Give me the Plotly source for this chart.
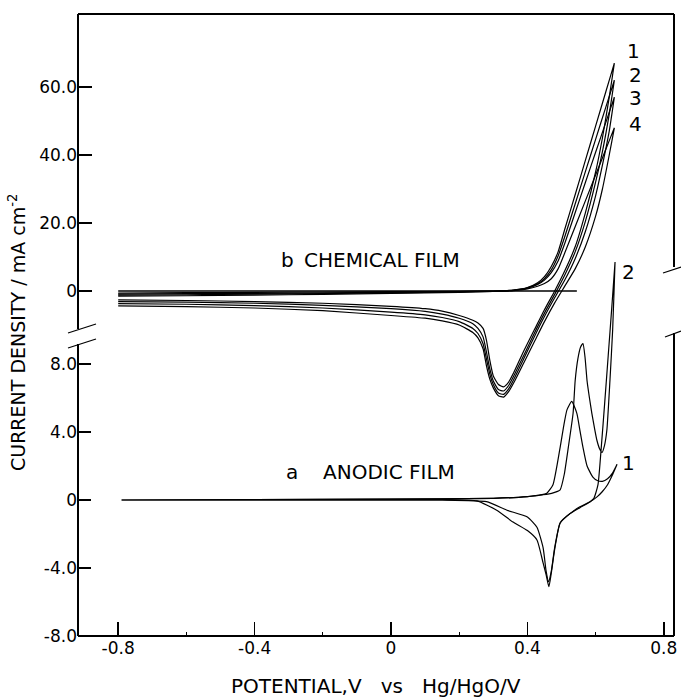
import plotly.graph_objects as go

# ---------------- DATA ----------------
# b  CHEMICAL FILM (upper scale, mA cm^-2), four cycles
chem_fwd_x = [-0.80, -0.60, -0.40, -0.20, 0.00, 0.20, 0.30, 0.36, 0.40, 0.43, 0.45,
              0.47, 0.49, 0.51, 0.54, 0.57, 0.60, 0.63, 0.655]
chem_fwd_y1 = [-0.6, -0.5, -0.4, -0.3, -0.2, -0.1, 0.0, 0.3, 1.0, 2.4, 4.2,
               7.2, 11.5, 18.3, 28.3, 38.4, 48.5, 58.6, 67.0]
chem_fwd_y2 = [-0.9, -0.8, -0.7, -0.55, -0.4, -0.2, 0.0, 0.25, 0.9, 2.1, 3.6,
               6.2, 10.3, 16.1, 25.6, 35.1, 44.6, 54.1, 62.0]
chem_fwd_y3 = [-1.2, -1.1, -0.9, -0.75, -0.55, -0.3, -0.1, 0.2, 0.8, 1.9, 3.2,
               5.4, 8.8, 14.1, 23.0, 31.9, 40.8, 49.6, 57.0]
chem_fwd_y4 = [-1.5, -1.4, -1.2, -1.0, -0.7, -0.4, -0.15, 0.1, 0.6, 1.4, 2.2,
               3.6, 6.5, 11.3, 18.9, 26.5, 34.1, 41.7, 48.0]

chem_rev_x = [0.655, 0.64, 0.62, 0.60, 0.57, 0.54, 0.51, 0.48, 0.45, 0.42, 0.39, 0.36,
              0.345, 0.33, 0.315, 0.30, 0.29, 0.28, 0.27, 0.255, 0.24, 0.20, 0.15, 0.10,
              0.00, -0.20, -0.40, -0.60, -0.80]
chem_rev_y1 = [67.0, 57.0, 45.0, 35.0, 23.0, 13.0, 6.0, 0.0, -5.5, -11.5, -17.5, -24.0,
               -26.8, -28.2, -27.5, -25.0, -20.5, -14.5, -11.0, -9.4, -8.6, -7.2, -5.9, -5.2,
               -4.5, -3.6, -3.1, -2.8, -2.6]
chem_rev_y2 = [62.0, 52.0, 41.0, 32.0, 20.5, 11.5, 4.8, -1.0, -6.5, -12.5, -18.8, -25.0,
               -27.8, -29.4, -29.0, -26.5, -23.0, -18.0, -13.5, -11.0, -9.6, -8.0, -6.8, -6.0,
               -5.2, -4.2, -3.6, -3.3, -3.1]
chem_rev_y3 = [57.0, 47.0, 37.0, 28.0, 17.5, 9.5, 3.3, -2.0, -7.5, -13.5, -19.8, -26.0,
               -28.8, -30.4, -30.0, -27.5, -24.5, -20.0, -15.5, -12.5, -11.0, -9.0, -7.8, -7.0,
               -6.2, -5.0, -4.3, -3.9, -3.7]
chem_rev_y4 = [48.0, 40.0, 30.0, 22.0, 13.0, 6.5, 1.5, -3.5, -9.0, -15.0, -21.0, -27.0,
               -29.6, -31.2, -30.8, -28.5, -26.0, -22.0, -17.0, -13.8, -12.2, -10.0, -8.8, -8.0,
               -7.2, -5.8, -5.0, -4.6, -4.4]
chem_zero_x = [-0.80, 0.545]
chem_zero_y = [0.0, 0.0]

# a  ANODIC FILM (lower scale, mA cm^-2), two cycles
anod1_fwd_x = [-0.79, -0.40, 0.00, 0.30, 0.40, 0.44, 0.457, 0.475, 0.496, 0.506, 0.516,
               0.53, 0.545, 0.554, 0.563, 0.575, 0.592, 0.605, 0.62, 0.635, 0.65, 0.663]
anod1_fwd_y = [0.0, 0.02, 0.05, 0.1, 0.2, 0.3, 0.4, 0.9, 3.1, 4.3, 5.3,
               5.8, 5.1, 4.1, 3.1, 2.0, 1.35, 1.15, 1.1, 1.25, 1.6, 2.1]
anod1_rev_x = [0.663, 0.65, 0.635, 0.62, 0.605, 0.584, 0.554, 0.525, 0.496, 0.48, 0.47,
               0.463, 0.455, 0.446, 0.428, 0.40, 0.358, 0.31, 0.252, 0.15, 0.00, -0.40, -0.79]
anod1_rev_y = [2.1, 1.5, 0.9, 0.5, 0.2, -0.1, -0.4, -0.8, -1.35, -2.9, -4.3,
               -5.1, -4.4, -3.7, -2.35, -1.8, -1.3, -0.6, -0.05, 0.0, 0.0, 0.0, 0.0]

anod2_fwd_x = [-0.79, -0.40, 0.00, 0.30, 0.40, 0.44, 0.46, 0.48, 0.496, 0.508, 0.52,
               0.534, 0.54, 0.548, 0.556, 0.563, 0.569, 0.575, 0.582, 0.589, 0.597, 0.604,
               0.612, 0.619, 0.626, 0.633, 0.642, 0.65, 0.657]
anod2_fwd_y = [0.0, 0.02, 0.05, 0.1, 0.2, 0.3, 0.35, 0.45, 0.6, 1.5, 3.1,
               5.1, 7.0, 8.3, 9.0, 9.2, 8.4, 7.0, 6.0, 5.1, 4.2, 3.5,
               3.0, 2.8, 3.2, 4.1, 7.0, 10.0, 14.0]
anod2_rev_x = [0.657, 0.647, 0.637, 0.627, 0.617, 0.607, 0.595, 0.584, 0.554, 0.525, 0.496,
               0.48, 0.47, 0.462, 0.455, 0.446, 0.428, 0.40, 0.34, 0.28, 0.15, 0.00, -0.40, -0.79]
anod2_rev_y = [14.0, 11.2, 8.5, 5.8, 3.2, 0.9, 0.1, -0.1, -0.45, -0.8, -1.35,
               -2.8, -4.2, -4.8, -4.2, -2.8, -1.6, -1.0, -0.6, -0.1, 0.0, 0.0, 0.0, 0.0]

x_ticks = [-0.8, -0.4, 0.0, 0.4, 0.8]
x_ticktext = ["-0.8", "-0.4", "0", "0.4", "0.8"]
x_minor = [-0.6, -0.2, 0.2, 0.6]
top_ticks = [0, 20, 40, 60]
top_ticktext = ["0", "20.0", "40.0", "60.0"]
bot_ticks = [-8, -4, 0, 4, 8]
bot_ticktext = ["-8.0", "-4.0", "0", "4.0", "8.0"]

# ---------------- FIGURE ----------------
W, H = 681, 698
L, R, T, B = 78, 674, 14, 636  # plot area in pixels
FONT = "DejaVu Sans, Verdana, sans-serif"


def px_x(px):
    return (px - L) / (R - L)


def px_y(py):
    return (B - py) / (B - T)


fig = go.Figure()
line_style = dict(color="black", width=1.2, shape="spline", smoothing=0.5)

chem_cycles = [(chem_fwd_y1, chem_rev_y1), (chem_fwd_y2, chem_rev_y2),
               (chem_fwd_y3, chem_rev_y3), (chem_fwd_y4, chem_rev_y4)]
for fy, ry in chem_cycles:
    fig.add_trace(go.Scatter(x=chem_fwd_x + chem_rev_x, y=fy + ry, mode="lines",
                             line=line_style, xaxis="x", yaxis="y",
                             showlegend=False, hoverinfo="skip"))
fig.add_trace(go.Scatter(x=chem_zero_x, y=chem_zero_y, mode="lines",
                         line=dict(color="black", width=1.3), xaxis="x", yaxis="y",
                         showlegend=False, hoverinfo="skip"))

for fx, fy, rx, ry in [(anod1_fwd_x, anod1_fwd_y, anod1_rev_x, anod1_rev_y),
                       (anod2_fwd_x, anod2_fwd_y, anod2_rev_x, anod2_rev_y)]:
    fig.add_trace(go.Scatter(x=fx + rx, y=fy + ry, mode="lines", line=line_style,
                             xaxis="x", yaxis="y2", showlegend=False, hoverinfo="skip"))

top_range = [(291 - B) / 3.4, (291 - T) / 3.4]
bot_range = [(500 - B) / 17.0, (500 - T) / 17.0]
x_range = [(L - 391) / 341.0, (R - 391) / 341.0]

TICKFONT = dict(family=FONT, size=17, color="black")
common_y = dict(showgrid=False, zeroline=False, showline=False, ticks="inside",
                tickcolor="black", tickwidth=1.5, automargin=False)

fig.update_layout(
    template="none",
    width=W, height=H,
    margin=dict(l=L, r=W - R, t=T, b=H - B, pad=0, autoexpand=False),
    paper_bgcolor="white", plot_bgcolor="white",
    font=dict(family=FONT, color="black"),
    xaxis=dict(range=x_range, tickvals=x_ticks, ticktext=x_ticktext,
               showgrid=False, zeroline=False, showline=False, automargin=False,
               ticks="inside", ticklen=14, tickwidth=1.5, tickcolor="black",
               tickfont=TICKFONT,
               minor=dict(tickvals=x_minor, ticks="inside", ticklen=4,
                          tickwidth=1.2, tickcolor="black", showgrid=False)),
    yaxis=dict(range=top_range, tickvals=top_ticks, ticktext=top_ticktext,
               ticklen=14, tickfont=TICKFONT, **common_y),
    yaxis2=dict(range=bot_range, tickvals=bot_ticks, ticktext=bot_ticktext,
                overlaying="y", side="left", anchor="x", ticklen=13,
                tickfont=TICKFONT, **common_y),
    yaxis3=dict(range=top_range, tickvals=top_ticks[1:], overlaying="y", side="right",
                anchor="x", ticklen=11, showticklabels=False, **common_y),
    yaxis4=dict(range=bot_range, tickvals=bot_ticks[1:], overlaying="y", side="right",
                anchor="x", ticklen=11, showticklabels=False, **common_y),
)

# frame lines with axis breaks (decoration)
frame = [
    ((L, T), (R, T)), ((L, B), (R, B)),
    ((L, T), (L, 329)), ((L, 344), (L, B)),
    ((R, T), (R, 267)), ((R, 333), (R, B)),
]
for (x0, y0), (x1, y1) in frame:
    fig.add_shape(type="line", xref="paper", yref="paper",
                  x0=px_x(x0), y0=px_y(y0), x1=px_x(x1), y1=px_y(y1),
                  line=dict(color="black", width=2))
breaks = [((68, 333), (96, 324)), ((68, 348), (96, 339)),
          ((663, 273), (681, 267)), ((665, 337), (681, 331))]
for (x0, y0), (x1, y1) in breaks:
    fig.add_shape(type="line", xref="paper", yref="paper",
                  x0=px_x(x0), y0=px_y(y0), x1=px_x(x1), y1=px_y(y1),
                  line=dict(color="black", width=1.3))

ann_font = dict(family=FONT, size=20, color="black")
texts = [
    ("b", -0.305, "y", 9.1, "center"),
    ("CHEMICAL FILM", -0.262, "y", 9.1, "left"),
    ("a", -0.29, "y2", 1.65, "center"),
    ("ANODIC FILM", -0.204, "y2", 1.65, "left"),
    ("1", 0.712, "y", 70.5, "center"),
    ("2", 0.716, "y", 63.5, "center"),
    ("3", 0.716, "y", 56.8, "center"),
    ("4", 0.716, "y", 49.0, "center"),
    ("2", 0.697, "y2", 13.4, "center"),
    ("1", 0.697, "y2", 2.2, "center"),
]
for t, x, yref, y, anchor in texts:
    fig.add_annotation(text=t, x=x, y=y, xref="x", yref=yref, xanchor=anchor,
                       yanchor="middle", showarrow=False, font=ann_font)

fig.add_annotation(text="CURRENT DENSITY / mA cm<sup>-2</sup>", textangle=-90,
                   xref="paper", yref="paper", x=px_x(17), y=px_y(333),
                   xanchor="center", yanchor="middle", showarrow=False,
                   font=dict(family=FONT, size=19, color="black"))
fig.add_annotation(text="POTENTIAL,V\u00a0\u00a0\u00a0vs\u00a0\u00a0\u00a0Hg/HgO/V",
                   xref="paper", yref="paper", x=px_x(376), y=px_y(686),
                   xanchor="center", yanchor="middle", showarrow=False,
                   font=dict(family=FONT, size=20, color="black"))

# remove the browser's default page margin so the figure sits at the window origin
fig.write_html("out.html",
               config={"displayModeBar": False, "staticPlot": True},
               post_script="document.body.style.margin='0px';"
                           "document.documentElement.style.overflow='hidden';")
